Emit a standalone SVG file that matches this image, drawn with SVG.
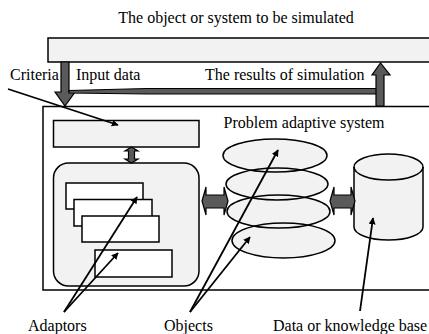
<svg xmlns="http://www.w3.org/2000/svg" width="429" height="334" viewBox="0 0 429 334">
<style>
text{font-family:'Liberation Serif','Times New Roman','DejaVu Serif',serif;font-size:16px;fill:#000}
.box{stroke:#000;stroke-width:1.5}
.lg{fill:#f2f2f2}
.wh{fill:#fff}
.blk{fill:#5a5a5a;stroke:#000;stroke-width:1.2;stroke-linejoin:miter}
.ln{stroke:#000;stroke-width:1.8;fill:none;marker-end:url(#ah)}
</style>
<defs>
<marker id="ah" viewBox="0 0 10 10" refX="9" refY="5" markerWidth="7" markerHeight="7" markerUnits="userSpaceOnUse" orient="auto">
<path d="M0,0 L10,5 L0,10 Z" fill="#000"/>
</marker>
</defs>
<rect width="429" height="334" fill="#fff"/>
<text x="236" y="23" text-anchor="middle" font-family="Liberation Serif, serif">The object or system to be simulated</text>
<g id="object">
<rect class="box lg" x="48" y="38" width="400" height="24"/>
</g>
<g id="system">
<rect class="box wh" x="43" y="106.5" width="400" height="183.5"/>
<text x="304" y="128" text-anchor="middle" font-family="Liberation Serif, serif">Problem adaptive system</text>
</g>
<g id="criteria-box">
<rect class="box lg" x="53.5" y="120.5" width="145.5" height="26.5"/>
</g>
<g id="adaptor-container">
<rect class="box lg" x="53.5" y="163" width="145.5" height="123" rx="15" ry="15"/>
</g>
<g id="adaptor1"><rect class="box wh" x="66" y="183" width="77" height="26"/></g>
<g id="adaptor2"><rect class="box wh" x="74" y="199.5" width="78" height="26.5"/></g>
<g id="adaptor3"><rect class="box wh" x="82" y="216" width="77" height="26"/></g>
<g id="adaptor4"><rect class="box wh" x="95" y="250" width="77" height="27"/></g>
<g id="objects">
<ellipse class="lg" cx="275" cy="155.5" rx="52" ry="16.5"/>
<ellipse class="lg" cx="277" cy="184" rx="51" ry="16"/>
<ellipse class="lg" cx="278.5" cy="211.5" rx="51.5" ry="16.5"/>
<ellipse class="lg" cx="283.5" cy="240.5" rx="51.5" ry="17.5"/>
<g fill="none" stroke="#000" stroke-width="1.5">
<ellipse cx="275" cy="155.5" rx="52" ry="16.5"/>
<ellipse cx="277" cy="184" rx="51" ry="16"/>
<ellipse cx="278.5" cy="211.5" rx="51.5" ry="16.5"/>
<ellipse cx="283.5" cy="240.5" rx="51.5" ry="17.5"/>
</g>
</g>
<g id="database">
<path class="box lg" d="M354,167 A34.5,13 0 0 1 423,167 L423,227 A34.5,13 0 0 1 354,227 Z"/>
<path d="M354,167 A34.5,13 0 0 0 423,167" fill="none" stroke="#000" stroke-width="1.5"/>
</g>
<g id="labels" font-family="Liberation Serif, serif">
<text x="10" y="80">Criteria</text>
<text x="76" y="80">Input data</text>
<text x="205" y="80">The results of simulation</text>
<text x="28" y="331">Adaptors</text>
<text x="164" y="331">Objects</text>
<text x="273" y="331">Data or knowledge base</text>
</g>
<g id="connectors">
<polygon class="blk" points="61,62 69,62 69,92 75,92 65,106 55,92 61,92"/>
<polygon class="blk" points="69,90.5 147,88.5 377,88.5 377,94 147,94 69,93"/>
<polygon class="blk" points="376,106 376,75 372,75 380.5,63 390,75 384,75 384,106"/>
<polygon class="blk" points="131.5,147 138,151 134.5,151 134.5,159 138,159 131.5,163 125,159 128.5,159 128.5,151 125,151"/>
<polygon class="blk" points="202,201 206,187 206,195 224,195 224,187 228,201 224,215 224,208 206,208 206,215"/>
<polygon class="blk" points="330,201 334,187 334,195 351,195 351,187 355,201 351,215 351,208 334,208 334,215"/>
<line class="ln" x1="8" y1="89" x2="118" y2="125"/>
<line class="ln" x1="64" y1="312" x2="137" y2="197"/>
<line class="ln" x1="64" y1="312" x2="118" y2="253"/>
<line class="ln" x1="190" y1="312" x2="278" y2="150"/>
<line class="ln" x1="190" y1="312" x2="250" y2="237"/>
<line class="ln" x1="360" y1="311" x2="373" y2="218"/>
</g>
</svg>
